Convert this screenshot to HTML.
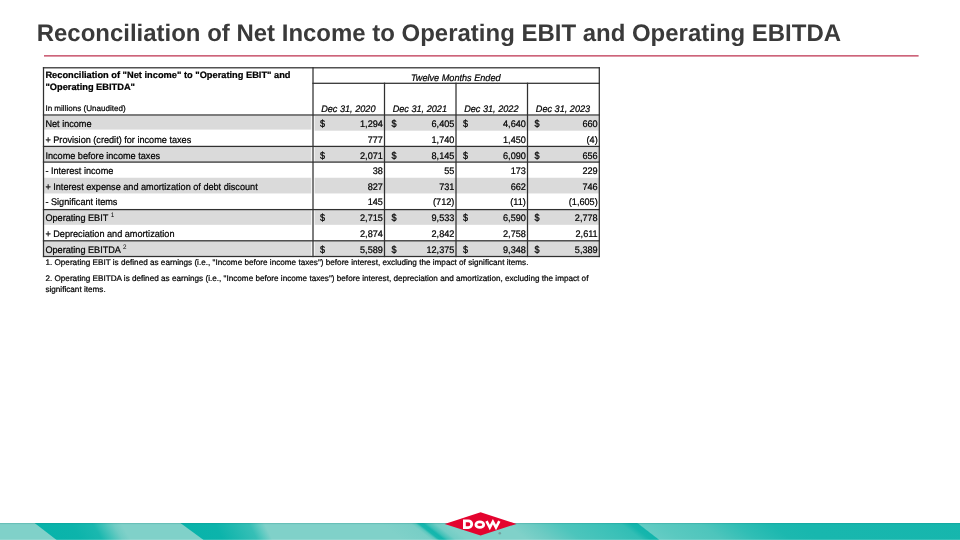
<!DOCTYPE html>
<html><head><meta charset="utf-8"><title>Reconciliation</title>
<style>
html,body{margin:0;padding:0;}
body{width:960px;height:540px;position:relative;overflow:hidden;background:#fff;font-family:"Liberation Sans",sans-serif;color:#000;}
#txt{position:absolute;left:0;top:0;width:960px;height:540px;will-change:transform;-webkit-text-stroke:0.22px currentColor;text-rendering:geometricPrecision;}
.a{position:absolute;white-space:nowrap;}
.t{position:absolute;white-space:nowrap;font-size:9.15px;line-height:12px;height:12px;transform-origin:0 9.17px;transform:scaleY(1.045);}
.d{transform-origin:0 5.6px;transform:scaleY(1.12);}
sup{font-size:6.3px;line-height:0;vertical-align:3.7px;-webkit-text-stroke:0;}
svg{position:absolute;left:0;top:0;}
</style></head><body>

<svg width="960" height="540" viewBox="0 0 960 540">
<rect x="44.0" y="55.1" width="874.6" height="1.5" fill="#c8546c"/>
<rect x="43.5" y="116.00" width="267.80" height="13.59" fill="#dadada"/>
<rect x="314.60" y="116.00" width="284.70" height="14.69" fill="#dadada"/>
<rect x="43.5" y="146.38" width="267.80" height="15.69" fill="#dadada"/>
<rect x="314.60" y="146.38" width="284.70" height="15.69" fill="#dadada"/>
<rect x="43.5" y="177.76" width="267.80" height="15.69" fill="#dadada"/>
<rect x="314.60" y="177.76" width="284.70" height="15.69" fill="#dadada"/>
<rect x="43.5" y="209.14" width="267.80" height="15.69" fill="#dadada"/>
<rect x="314.60" y="209.14" width="284.70" height="15.69" fill="#dadada"/>
<rect x="43.5" y="240.52" width="267.80" height="15.69" fill="#dadada"/>
<rect x="314.60" y="240.52" width="284.70" height="15.69" fill="#dadada"/>
<rect x="42.88" y="67.17" width="557.05" height="1.25" fill="#303030"/>
<rect x="312.38" y="82.67" width="287.55" height="1.25" fill="#303030"/>
<rect x="42.88" y="114.38" width="557.05" height="1.25" fill="#303030"/>
<rect x="42.88" y="145.78" width="557.05" height="1.25" fill="#303030"/>
<rect x="42.88" y="161.47" width="557.05" height="1.25" fill="#303030"/>
<rect x="42.88" y="208.97" width="557.05" height="1.25" fill="#303030"/>
<rect x="42.88" y="240.18" width="557.05" height="1.25" fill="#303030"/>
<rect x="42.88" y="255.88" width="557.05" height="1.25" fill="#303030"/>
<rect x="42.88" y="67.17" width="1.25" height="189.95" fill="#303030"/>
<rect x="312.38" y="67.17" width="1.25" height="189.95" fill="#303030"/>
<rect x="598.67" y="67.17" width="1.25" height="189.95" fill="#303030"/>
<rect x="383.88" y="82.67" width="1.25" height="174.45" fill="#303030"/>
<rect x="455.38" y="82.67" width="1.25" height="174.45" fill="#303030"/>
<rect x="526.88" y="82.67" width="1.25" height="174.45" fill="#303030"/>
</svg>
<div id="txt">
<div class="a" style="left:36.7px;top:19.7px;font-size:23.97px;line-height:28px;font-weight:bold;color:#3a3a3a;-webkit-text-stroke:0;">Reconciliation of Net Income to Operating EBIT and Operating EBITDA</div>
<div class="a" style="left:45.4px;top:68.8px;font-size:9.27px;line-height:12px;font-weight:bold;">Reconciliation of "Net income" to "Operating EBIT" and<br>"Operating EBITDA"</div>
<div class="a" style="left:45.4px;top:103.5px;font-size:8.07px;line-height:10px;">In millions (Unaudited)</div>
<div class="t" style="left:313.0px;width:286.29999999999995px;top:71.5px;text-align:center;font-style:italic;margin-left:-0.4px;">Twelve Months Ended</div>
<div class="t" style="left:313.0px;width:71.5px;top:102.9px;text-align:center;font-style:italic;margin-left:-0.4px;">Dec 31, 2020</div>
<div class="t" style="left:384.5px;width:71.5px;top:102.9px;text-align:center;font-style:italic;margin-left:-0.4px;">Dec 31, 2021</div>
<div class="t" style="left:456.0px;width:71.5px;top:102.9px;text-align:center;font-style:italic;margin-left:-0.4px;">Dec 31, 2022</div>
<div class="t" style="left:527.5px;width:71.79999999999995px;top:102.9px;text-align:center;font-style:italic;margin-left:-0.4px;">Dec 31, 2023</div>
<div class="t" style="left:45.4px;top:117.83px;">Net income</div>
<div class="t d" style="left:320.00px;top:117.83px;">$</div>
<div class="t" style="left:313.0px;width:69.90px;top:117.83px;text-align:right;">1,294</div>
<div class="t d" style="left:391.50px;top:117.83px;">$</div>
<div class="t" style="left:384.5px;width:69.90px;top:117.83px;text-align:right;">6,405</div>
<div class="t d" style="left:463.00px;top:117.83px;">$</div>
<div class="t" style="left:456.0px;width:69.90px;top:117.83px;text-align:right;">4,640</div>
<div class="t d" style="left:534.50px;top:117.83px;">$</div>
<div class="t" style="left:527.5px;width:70.20px;top:117.83px;text-align:right;">660</div>
<div class="t" style="left:45.4px;top:133.83px;">+ Provision (credit) for income taxes</div>
<div class="t" style="left:313.0px;width:69.90px;top:133.83px;text-align:right;">777</div>
<div class="t" style="left:384.5px;width:69.90px;top:133.83px;text-align:right;">1,740</div>
<div class="t" style="left:456.0px;width:69.90px;top:133.83px;text-align:right;">1,450</div>
<div class="t" style="left:527.5px;width:70.20px;top:133.83px;text-align:right;">(4)</div>
<div class="t" style="left:45.4px;top:149.83px;">Income before income taxes</div>
<div class="t d" style="left:320.00px;top:149.83px;">$</div>
<div class="t" style="left:313.0px;width:69.90px;top:149.83px;text-align:right;">2,071</div>
<div class="t d" style="left:391.50px;top:149.83px;">$</div>
<div class="t" style="left:384.5px;width:69.90px;top:149.83px;text-align:right;">8,145</div>
<div class="t d" style="left:463.00px;top:149.83px;">$</div>
<div class="t" style="left:456.0px;width:69.90px;top:149.83px;text-align:right;">6,090</div>
<div class="t d" style="left:534.50px;top:149.83px;">$</div>
<div class="t" style="left:527.5px;width:70.20px;top:149.83px;text-align:right;">656</div>
<div class="t" style="left:45.4px;top:164.83px;">- Interest income</div>
<div class="t" style="left:313.0px;width:69.90px;top:164.83px;text-align:right;">38</div>
<div class="t" style="left:384.5px;width:69.90px;top:164.83px;text-align:right;">55</div>
<div class="t" style="left:456.0px;width:69.90px;top:164.83px;text-align:right;">173</div>
<div class="t" style="left:527.5px;width:70.20px;top:164.83px;text-align:right;">229</div>
<div class="t" style="left:45.4px;top:180.83px;">+ Interest expense and amortization of debt discount</div>
<div class="t" style="left:313.0px;width:69.90px;top:180.83px;text-align:right;">827</div>
<div class="t" style="left:384.5px;width:69.90px;top:180.83px;text-align:right;">731</div>
<div class="t" style="left:456.0px;width:69.90px;top:180.83px;text-align:right;">662</div>
<div class="t" style="left:527.5px;width:70.20px;top:180.83px;text-align:right;">746</div>
<div class="t" style="left:45.4px;top:195.83px;">- Significant items</div>
<div class="t" style="left:313.0px;width:69.90px;top:195.83px;text-align:right;">145</div>
<div class="t" style="left:384.5px;width:69.90px;top:195.83px;text-align:right;">(712)</div>
<div class="t" style="left:456.0px;width:69.90px;top:195.83px;text-align:right;">(11)</div>
<div class="t" style="left:527.5px;width:70.20px;top:195.83px;text-align:right;">(1,605)</div>
<div class="t" style="left:45.4px;top:211.83px;">Operating EBIT <sup>1</sup></div>
<div class="t d" style="left:320.00px;top:211.83px;">$</div>
<div class="t" style="left:313.0px;width:69.90px;top:211.83px;text-align:right;">2,715</div>
<div class="t d" style="left:391.50px;top:211.83px;">$</div>
<div class="t" style="left:384.5px;width:69.90px;top:211.83px;text-align:right;">9,533</div>
<div class="t d" style="left:463.00px;top:211.83px;">$</div>
<div class="t" style="left:456.0px;width:69.90px;top:211.83px;text-align:right;">6,590</div>
<div class="t d" style="left:534.50px;top:211.83px;">$</div>
<div class="t" style="left:527.5px;width:70.20px;top:211.83px;text-align:right;">2,778</div>
<div class="t" style="left:45.4px;top:227.83px;">+ Depreciation and amortization</div>
<div class="t" style="left:313.0px;width:69.90px;top:227.83px;text-align:right;">2,874</div>
<div class="t" style="left:384.5px;width:69.90px;top:227.83px;text-align:right;">2,842</div>
<div class="t" style="left:456.0px;width:69.90px;top:227.83px;text-align:right;">2,758</div>
<div class="t" style="left:527.5px;width:70.20px;top:227.83px;text-align:right;">2,611</div>
<div class="t" style="left:45.4px;top:243.83px;">Operating EBITDA <sup>2</sup></div>
<div class="t d" style="left:320.00px;top:243.83px;">$</div>
<div class="t" style="left:313.0px;width:69.90px;top:243.83px;text-align:right;">5,589</div>
<div class="t d" style="left:391.50px;top:243.83px;">$</div>
<div class="t" style="left:384.5px;width:69.90px;top:243.83px;text-align:right;">12,375</div>
<div class="t d" style="left:463.00px;top:243.83px;">$</div>
<div class="t" style="left:456.0px;width:69.90px;top:243.83px;text-align:right;">9,348</div>
<div class="t d" style="left:534.50px;top:243.83px;">$</div>
<div class="t" style="left:527.5px;width:70.20px;top:243.83px;text-align:right;">5,389</div>
<div class="a" style="left:45.4px;top:257.6px;font-size:8.17px;line-height:10px;">1. Operating EBIT is defined as earnings (i.e., "Income before income taxes") before interest, excluding the impact of significant items.</div>
<div class="a" style="left:45.4px;top:274.0px;font-size:8.17px;line-height:10.6px;">2. Operating EBITDA is defined as earnings (i.e., "Income before income taxes") before interest, depreciation and amortization, excluding the impact of<br>significant items.</div>
</div>
<svg style="left:0;top:500px;" width="960" height="40" viewBox="0 500 960 40">
<defs>
<linearGradient id="gb" gradientUnits="userSpaceOnUse" x1="-40" y1="0" x2="1000" y2="0">
<stop offset="0.00000" stop-color="#80d1c9"/>
<stop offset="0.40385" stop-color="#80d1c9"/>
<stop offset="0.42596" stop-color="#7acfc7"/>
<stop offset="0.43269" stop-color="#78cec6"/>
<stop offset="0.43702" stop-color="#5cc8bf"/>
<stop offset="0.44038" stop-color="#18b7ae"/>
<stop offset="0.44471" stop-color="#14b6ad"/>
<stop offset="0.44856" stop-color="#40c1b8"/>
<stop offset="0.45625" stop-color="#72cdc5"/>
<stop offset="0.46731" stop-color="#80d1c9"/>
<stop offset="0.52404" stop-color="#80d1c9"/>
<stop offset="0.54808" stop-color="#6ccbc3"/>
<stop offset="0.57692" stop-color="#4cc5bc"/>
<stop offset="0.61538" stop-color="#3cc1b8"/>
<stop offset="0.63462" stop-color="#32beb5"/>
<stop offset="0.64327" stop-color="#16b6ad"/>
<stop offset="0.65048" stop-color="#12b5ac"/>
<stop offset="0.65212" stop-color="#64ccc4"/>
<stop offset="0.67308" stop-color="#5ac9c0"/>
<stop offset="0.71154" stop-color="#4ec5bc"/>
<stop offset="0.74519" stop-color="#30beb5"/>
<stop offset="0.77885" stop-color="#1cb8af"/>
<stop offset="0.80769" stop-color="#18b7ae"/>
<stop offset="1.00000" stop-color="#16b6ad"/>
</linearGradient>
<linearGradient id="s1" gradientUnits="userSpaceOnUse" x1="34.6" y1="523" x2="101.361" y2="483.611">
<stop offset="0.0000" stop-color="#08b3aa"/>
<stop offset="0.4000" stop-color="#0cb4ab"/>
<stop offset="0.6400" stop-color="#1ab8af"/>
<stop offset="0.7600" stop-color="#45c3ba"/>
<stop offset="0.8700" stop-color="#6fccc4"/>
<stop offset="0.9600" stop-color="#80d1c9"/>
<stop offset="1.0000" stop-color="#80d1c9"/>
</linearGradient>
<linearGradient id="s2" gradientUnits="userSpaceOnUse" x1="180.4" y1="523" x2="252.400" y2="487.000">
<stop offset="0.0000" stop-color="#08b3aa"/>
<stop offset="0.3800" stop-color="#0cb4ab"/>
<stop offset="0.5300" stop-color="#1cb8af"/>
<stop offset="0.7600" stop-color="#36bfb6"/>
<stop offset="0.8500" stop-color="#5ccac1"/>
<stop offset="0.9300" stop-color="#80d1c9"/>
<stop offset="1.0000" stop-color="#80d1c9"/>
</linearGradient>
<clipPath id="cb"><rect x="0" y="523.1" width="960" height="17"/></clipPath>
</defs>
<g clip-path="url(#cb)"><rect x="-40" y="523" width="1040" height="17" fill="url(#gb)" transform="translate(0 523) skewX(52.3) translate(0 -523)"/>
<polygon points="34.6,523 140,523 140,540 56.6,540" fill="url(#s1)"/>
<polygon points="180.4,523 285,523 285,540 203.6,540" fill="url(#s2)"/>
<rect x="0" y="523" width="960" height="1.1" fill="#0a7f78" fill-opacity="0.2"/>
<rect x="0" y="539" width="960" height="1" fill="#ffffff" fill-opacity="0.14"/>
</g>
<polygon points="444.7,523.9 480.6,512.3 516.5,523.9 480.6,535.5" fill="#e4032e"/>
<g fill="none" stroke="#fff" stroke-width="2.8">
<path d="M464.4,520.8 h3.9 a3.4,3.4 0 0 1 0,6.8 h-3.9 z" stroke-linejoin="miter"/>
<ellipse cx="479.8" cy="524.7" rx="3.9" ry="2.75"/>
<polyline points="486.5,521.2 489.8,527.5 492.9,521.7 496.0,527.5 499.3,521.2" stroke-linejoin="miter" stroke-width="2.6"/>
</g>
<circle cx="499.8" cy="533.3" r="1.3" fill="#6f9896" fill-opacity="0.85"/>
</svg>
</body></html>
